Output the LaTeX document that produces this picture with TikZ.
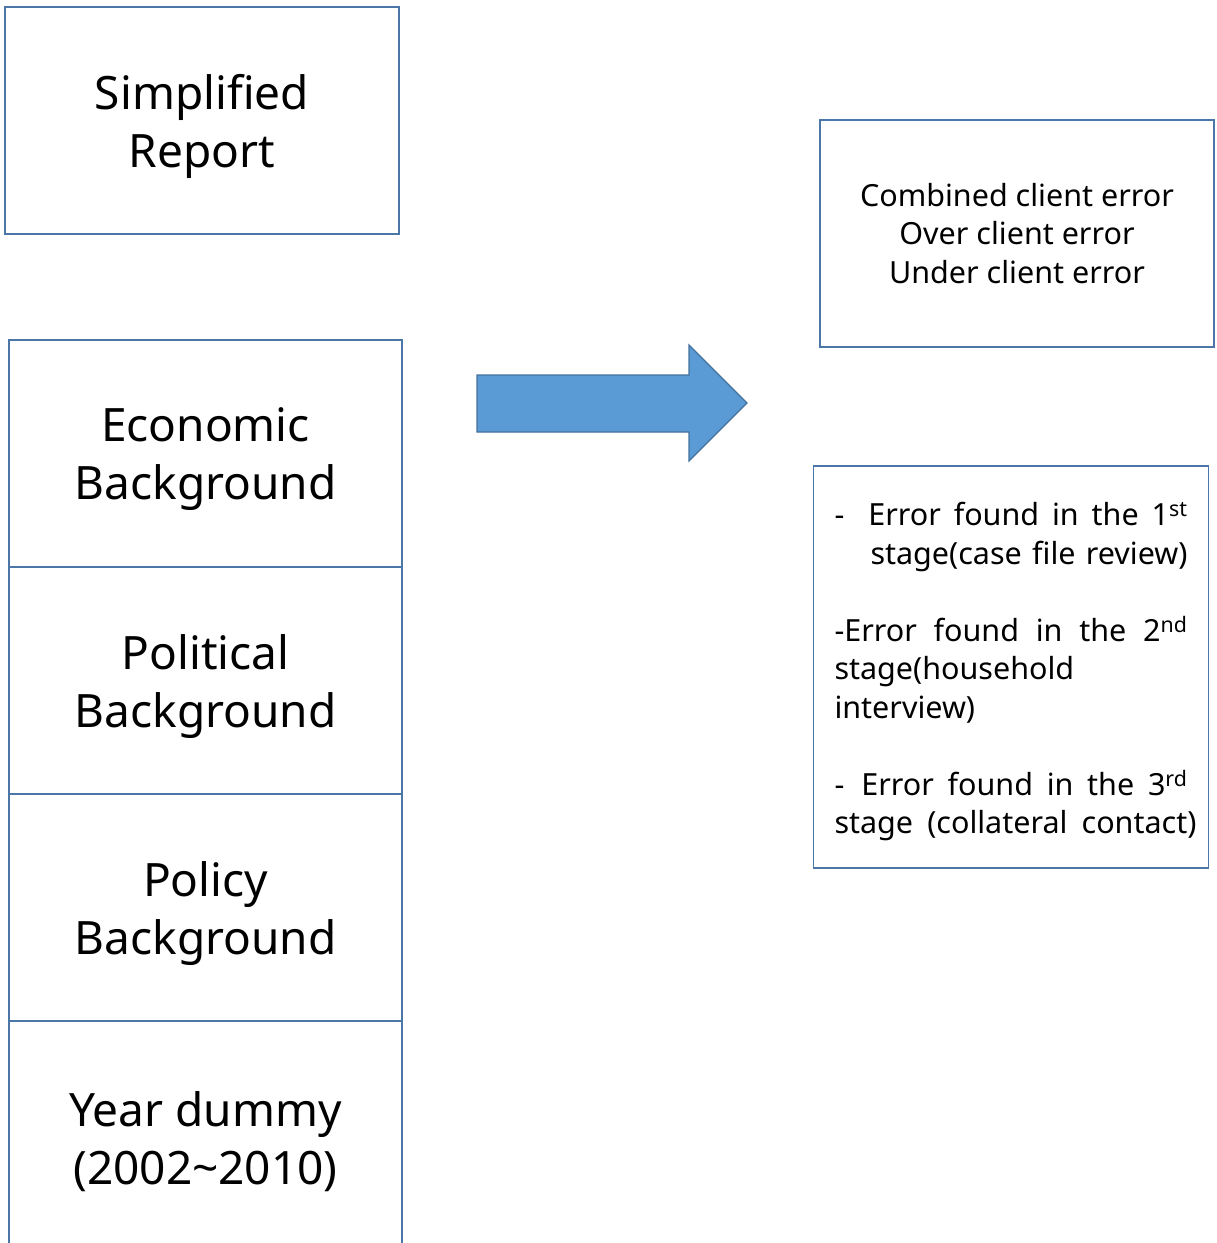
\documentclass[tikz,border=0pt]{standalone}
\usepackage{fontspec}
\setmainfont{Noto Sans}
\usetikzlibrary{positioning}
\definecolor{boxline}{RGB}{74,118,168}
\definecolor{arrowfill}{RGB}{91,155,213}
\definecolor{arrowline}{RGB}{65,113,156}
\def\bigfont{\fontsize{46}{58}\selectfont}
\def\smallfont{\fontsize{30.5}{38.5}\selectfont}
\def\spreadline#1#2{\leavevmode\hbox to #1{#2}}
\def\lowered#1{\raisebox{-6pt}[\height][\depth]{#1}}
\tikzset{
  factorbox/.style = {draw = boxline, line width = 1.6pt, outer sep = 0pt,
    inner sep = 0pt, minimum width = 393pt, minimum height = 227pt,
    align = center, font = \bigfont},
  errorbox/.style = {draw = boxline, line width = 1.6pt, outer sep = 0pt,
    minimum width = 394pt, font = \smallfont},
  blockarrow/.style = {fill = arrowfill, draw = arrowline, line width = 1.2pt}
}

\begin{document}
\begin{tikzpicture}[x = 1pt, y = -1pt]
  \useasboundingbox (0,0) rectangle (1217,1243);

  \node [factorbox, minimum width = 394pt] (report) at (202,120.5)
    {\lowered{Simplified}\\\lowered{Report}};

  \node [factorbox] (econ) at (205.5,453.5)
    {\lowered{Economic}\\\lowered{Background}};
  \node [factorbox, below = 0pt of econ] (polit)
    {\lowered{Political}\\\lowered{Background}};
  \node [factorbox, below = 0pt of polit] (policy)
    {\lowered{Policy}\\\lowered{Background}};
  \node [factorbox, below = 0pt of policy, minimum height = 230pt] (year)
    {\lowered{Year dummy}\\\lowered{(2002\textasciitilde 2010)}};

  \draw [blockarrow] (477,375) -- (689,375) -- (689,345) -- (747,403)
    -- (689,461) -- (689,432) -- (477,432) -- cycle;

  \node [errorbox, minimum height = 227pt, align = center] (types)
    at (1017,233.5)
    {Combined client error\\Over client error\\Under client error};

  \node [errorbox, minimum height = 402pt, inner xsep = 21pt,
    text width = 353pt, align = left,
    execute at begin node = {\rule{0pt}{33pt}}] (stages) at (1011,667)
    {\spreadline{353pt}{-\hspace{24pt}Error\hfill found\hfill in\hfill the\hfill 1\textsuperscript{st}}\\
     \hspace*{36pt}\spreadline{317pt}{stage(case\hfill file\hfill review)}\\[38.5pt]
     \spreadline{353pt}{-Error\hfill found\hfill in\hfill the\hfill 2\textsuperscript{nd}}\\
     stage(household\\
     interview)\\[38.5pt]
     \spreadline{353pt}{-\hspace{17pt}Error\hfill found\hfill in\hfill the\hfill 3\textsuperscript{rd}}\\
     \spreadline{362pt}{stage\hfill(collateral\hfill contact)}};

\end{tikzpicture}
\end{document}
